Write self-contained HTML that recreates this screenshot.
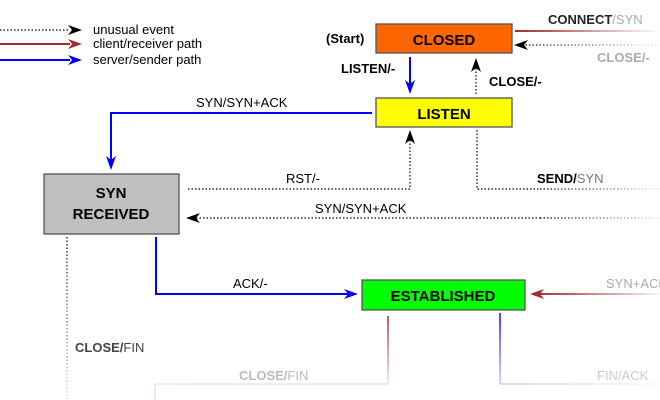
<!DOCTYPE html>
<html><head><meta charset="utf-8"><style>
html,body{margin:0;padding:0;background:#fff;}
svg{display:block;font-family:"Liberation Sans",Arial,sans-serif;}
</style></head><body>
<svg width="660" height="400" viewBox="0 0 660 400" xmlns="http://www.w3.org/2000/svg">
<defs>
<linearGradient id="redC" gradientUnits="userSpaceOnUse" x1="515" y1="0" x2="660" y2="0"><stop offset="0" stop-color="#a52a2a"/><stop offset="1" stop-color="#a52a2a" stop-opacity="0"/></linearGradient>
<linearGradient id="blkC" gradientUnits="userSpaceOnUse" x1="515" y1="0" x2="660" y2="0"><stop offset="0" stop-color="#000"/><stop offset="1" stop-color="#000" stop-opacity="0.05"/></linearGradient>
<linearGradient id="blkR" gradientUnits="userSpaceOnUse" x1="540" y1="0" x2="660" y2="0"><stop offset="0" stop-color="#000"/><stop offset="1" stop-color="#000" stop-opacity="0.1"/></linearGradient>
<linearGradient id="redE" gradientUnits="userSpaceOnUse" x1="535" y1="0" x2="660" y2="0"><stop offset="0" stop-color="#a52a2a"/><stop offset="1" stop-color="#a52a2a" stop-opacity="0.05"/></linearGradient>
<linearGradient id="blkV" gradientUnits="userSpaceOnUse" x1="0" y1="237" x2="0" y2="400"><stop offset="0" stop-color="#000"/><stop offset="1" stop-color="#000" stop-opacity="0.15"/></linearGradient>
<linearGradient id="redV" gradientUnits="userSpaceOnUse" x1="0" y1="316" x2="0" y2="384"><stop offset="0" stop-color="#a52a2a"/><stop offset="1" stop-color="#a52a2a" stop-opacity="0.15"/></linearGradient>
<linearGradient id="redH" gradientUnits="userSpaceOnUse" x1="155" y1="0" x2="388" y2="0"><stop offset="0" stop-color="#a52a2a" stop-opacity="0.12"/><stop offset="1" stop-color="#a52a2a" stop-opacity="0.15"/></linearGradient>
<linearGradient id="bluV" gradientUnits="userSpaceOnUse" x1="0" y1="313" x2="0" y2="384"><stop offset="0" stop-color="#0000ff"/><stop offset="1" stop-color="#0000ff" stop-opacity="0.2"/></linearGradient>
<linearGradient id="bluH" gradientUnits="userSpaceOnUse" x1="500" y1="0" x2="660" y2="0"><stop offset="0" stop-color="#0000ff" stop-opacity="0.2"/><stop offset="1" stop-color="#0000ff" stop-opacity="0.02"/></linearGradient>
</defs>

<!-- legend -->
<line x1="0" y1="30" x2="70" y2="30" stroke="#000" stroke-width="1.3" stroke-dasharray="1.5,2"/>
<path d="M68,25 L82,30 L68,35 L72,30 Z" fill="#000"/>
<line x1="0" y1="44" x2="70" y2="44" stroke="#a52a2a" stroke-width="2"/>
<path d="M68,39 L82,44 L68,49 L72,44 Z" fill="#a52a2a"/>
<line x1="0" y1="60" x2="70" y2="60" stroke="#0000ff" stroke-width="2"/>
<path d="M68,55 L82,60 L68,65 L72,60 Z" fill="#0000ff"/>
<text x="93" y="34" font-size="13">unusual event</text>
<text x="93" y="48" font-size="13">client/receiver path</text>
<text x="93" y="64" font-size="13">server/sender path</text>

<!-- boxes -->
<rect x="376" y="24" width="136" height="29" fill="#ff6600" stroke="#555" stroke-width="1.3"/>
<text x="444" y="45" font-size="15" font-weight="bold" text-anchor="middle">CLOSED</text>
<text x="326" y="43" font-size="13" font-weight="bold">(Start)</text>

<rect x="376" y="98" width="136" height="29" fill="#ffff00" stroke="#555" stroke-width="1.3"/>
<text x="444" y="119" font-size="15" font-weight="bold" text-anchor="middle">LISTEN</text>

<rect x="44" y="174" width="135" height="60" fill="#bfbfbf" stroke="#555" stroke-width="1.3"/>
<text x="111" y="198" font-size="15" font-weight="bold" text-anchor="middle">SYN</text>
<text x="111" y="219" font-size="15" font-weight="bold" text-anchor="middle">RECEIVED</text>

<rect x="362" y="280" width="163" height="30" fill="#00ff00" stroke="#555" stroke-width="1.3"/>
<text x="443" y="301" font-size="15" font-weight="bold" text-anchor="middle">ESTABLISHED</text>

<!-- CLOSED -> LISTEN -->
<line x1="410" y1="57" x2="410" y2="88" stroke="#0000ff" stroke-width="2"/>
<path d="M405,80 L410,94 L415,80 L410,84 Z" fill="#0000ff"/>
<text x="341" y="73" font-size="13" font-weight="bold">LISTEN/-</text>

<!-- LISTEN -> CLOSED dotted -->
<line x1="476" y1="94" x2="476" y2="66" stroke="#000" stroke-width="1.2" stroke-dasharray="1.5,2"/>
<path d="M471,72 L476,58 L481,72 L476,68 Z" fill="#000"/>
<text x="489" y="86" font-size="13" font-weight="bold">CLOSE/-</text>

<!-- CONNECT/SYN red line out -->
<line x1="515" y1="31" x2="660" y2="31" stroke="url(#redC)" stroke-width="2"/>
<text x="548" y="24" font-size="13" font-weight="bold" fill="#222">CONNECT<tspan fill="#aaa" font-weight="normal">/SYN</tspan></text>

<!-- CLOSE/- into CLOSED -->
<line x1="522" y1="45" x2="660" y2="45" stroke="url(#blkC)" stroke-width="1.2" stroke-dasharray="1.5,2"/>
<path d="M528,40 L514,45 L528,50 L524,45 Z" fill="#000"/>
<text x="597" y="62" font-size="13" font-weight="bold" fill="#aaa">CLOSE/-</text>

<!-- LISTEN -> SYN RCVD -->
<polyline points="372,113 111,113 111,162" fill="none" stroke="#0000ff" stroke-width="2"/>
<path d="M106,156 L111,170 L116,156 L111,160 Z" fill="#0000ff"/>
<text x="196" y="107" font-size="13">SYN/SYN+ACK</text>

<!-- RST/- -->
<polyline points="188,189 410,189 410,140" fill="none" stroke="#000" stroke-width="1.2" stroke-dasharray="1.5,2"/>
<path d="M405,144 L410,130 L415,144 L410,140 Z" fill="#000"/>
<text x="286" y="183" font-size="13">RST/-</text>

<!-- SEND/SYN -->
<polyline points="477,130 477,189 540,189" fill="none" stroke="#000" stroke-width="1.2" stroke-dasharray="1.5,2"/>
<line x1="540" y1="189" x2="660" y2="189" stroke="url(#blkR)" stroke-width="1.2" stroke-dasharray="1.5,2"/>
<text x="537" y="183" font-size="13" font-weight="bold">SEND/<tspan font-weight="normal" fill="#777">SYN</tspan></text>

<!-- SYN/SYN+ACK dotted into SYN RCVD -->
<line x1="196" y1="218" x2="540" y2="218" stroke="#000" stroke-width="1.2" stroke-dasharray="1.5,2"/>
<line x1="540" y1="218" x2="660" y2="218" stroke="url(#blkR)" stroke-width="1.2" stroke-dasharray="1.5,2"/>
<path d="M200,213 L186,218 L200,223 L196,218 Z" fill="#000"/>
<text x="315" y="213" font-size="13">SYN/SYN+ACK</text>

<!-- ACK/- -->
<polyline points="156,237 156,294 350,294" fill="none" stroke="#0000ff" stroke-width="2"/>
<path d="M344,289 L358,294 L344,299 L348,294 Z" fill="#0000ff"/>
<text x="233" y="288" font-size="13">ACK/-</text>

<!-- SYN+ACK red arrow into ESTABLISHED -->
<line x1="538" y1="294" x2="660" y2="294" stroke="url(#redE)" stroke-width="2"/>
<path d="M544,289 L530,294 L544,299 L540,294 Z" fill="#a52a2a"/>
<text x="606" y="288" font-size="13" fill="#aaa">SYN+ACK</text>

<!-- CLOSE/FIN dotted down from SYN RCVD -->
<line x1="67" y1="237" x2="67" y2="400" stroke="url(#blkV)" stroke-width="1.2" stroke-dasharray="1.5,2"/>
<text x="75" y="352" font-size="13" font-weight="bold" fill="#444">CLOSE/<tspan font-weight="normal">FIN</tspan></text>

<!-- red from ESTABLISHED down -->
<line x1="388" y1="316" x2="388" y2="384" stroke="url(#redV)" stroke-width="1.5"/>
<line x1="155" y1="384" x2="388" y2="384" stroke="url(#redH)" stroke-width="1.5"/>
<line x1="155" y1="384" x2="155" y2="400" stroke="#a52a2a" stroke-opacity="0.15" stroke-width="1.5"/>
<text x="239" y="380" font-size="13" font-weight="bold" fill="#bbb">CLOSE/<tspan font-weight="normal">FIN</tspan></text>

<!-- blue from ESTABLISHED down -->
<line x1="500" y1="313" x2="500" y2="384" stroke="url(#bluV)" stroke-width="1.5"/>
<line x1="500" y1="384" x2="660" y2="384" stroke="url(#bluH)" stroke-width="1.5"/>
<text x="597" y="380" font-size="13" fill="#ccc">FIN/ACK</text>
</svg>
</body></html>
